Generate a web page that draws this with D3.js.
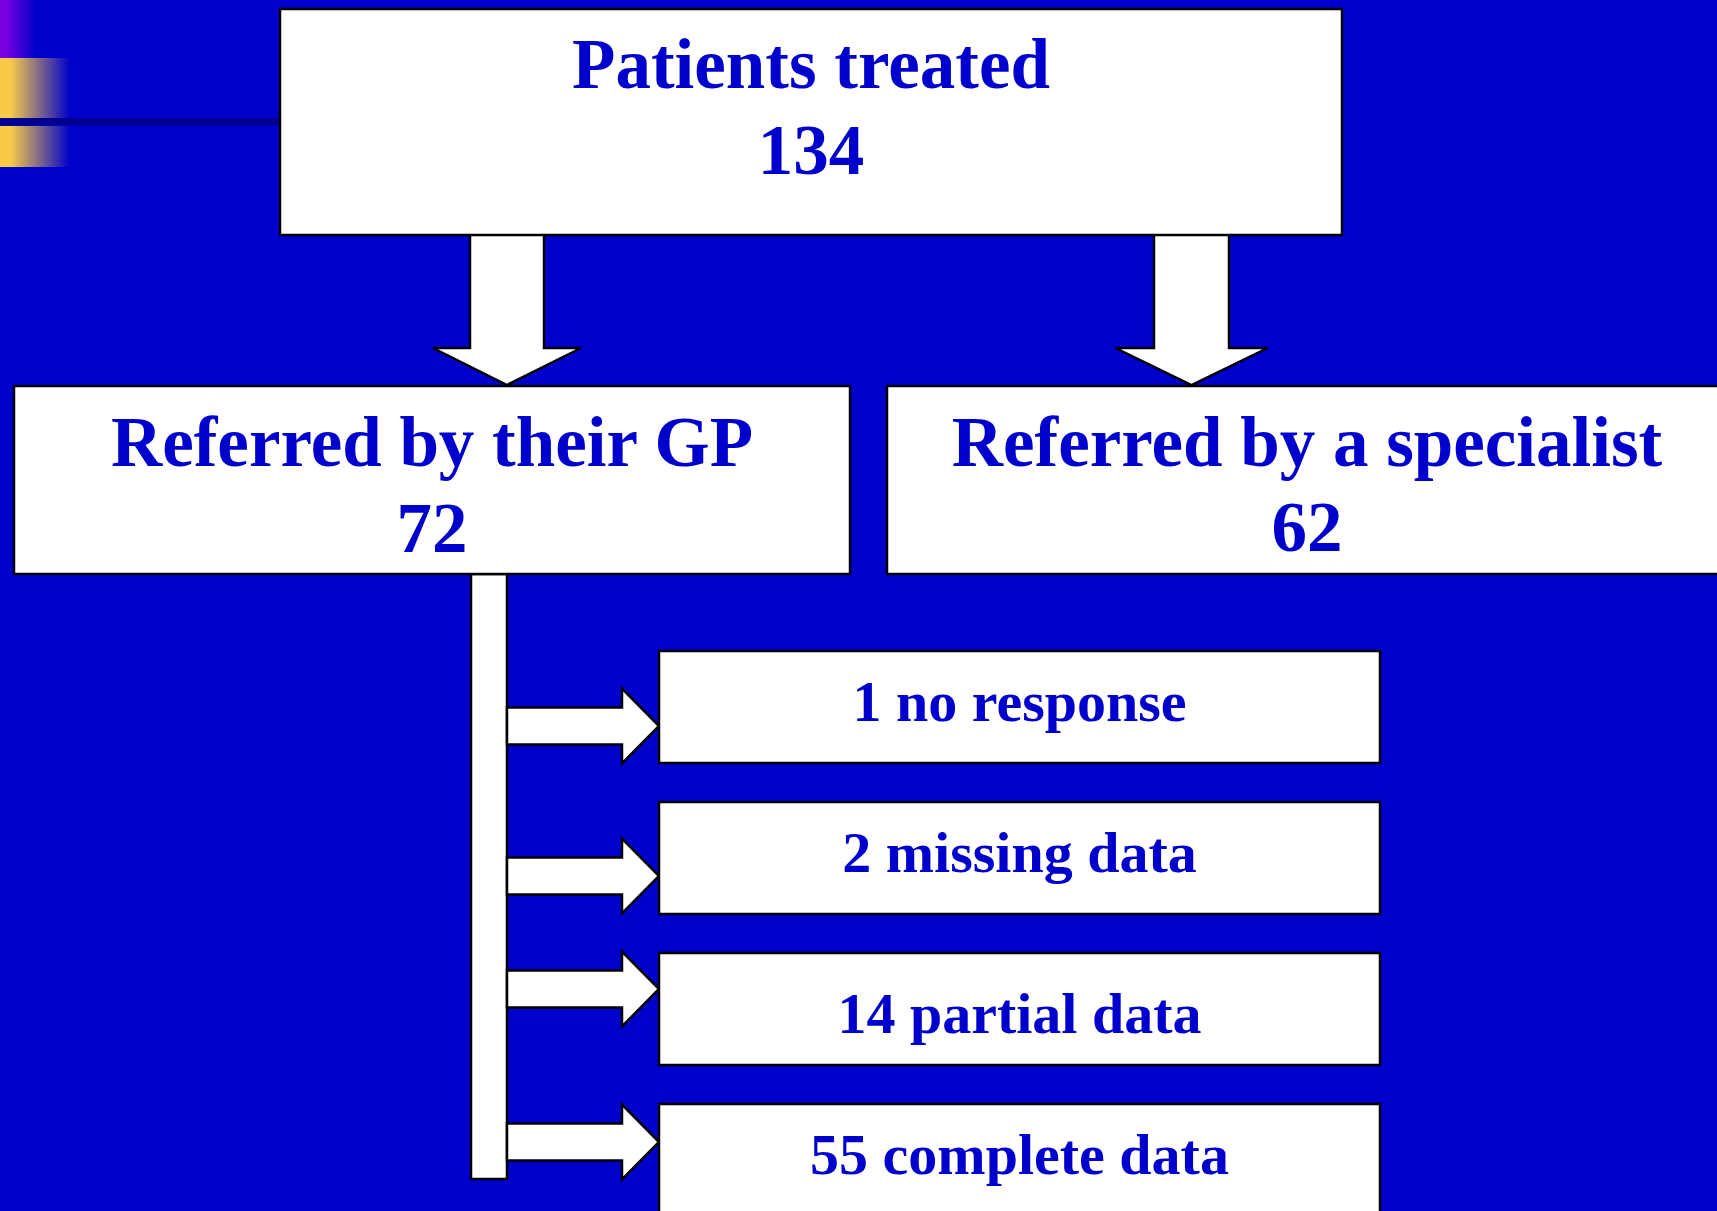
<!DOCTYPE html>
<html>
<head>
<meta charset="utf-8">
<script src="https://cdn.jsdelivr.net/npm/d3@7"></script>
<style>
  html, body { margin: 0; padding: 0; background: #0000cc; overflow: hidden; }
</style>
</head>
<body>
<svg id="chart"></svg>
<script>
// Patient referral flow: who referred the patients, and what came back from the GP group.
const stageLabels = ['Patients treated', 'Referred by their GP', 'Referred by a specialist'];
const stageCounts = [134, 72, 62];
const outcomeLabels = ['no response', 'missing data', 'partial data', 'complete data'];
const outcomeCounts = [1, 2, 14, 55];

const W = 1717, H = 1211;
const palette = {
  bg: '#0000cc', text: '#0000cc', box: '#ffffff', line: '#000000',
  font: '"Liberation Serif", "Times New Roman", Times, serif',
};

// layout only — boxes for the three stages (x, y, width, height, two text baselines)
const stageBoxes = [
  { x: 280, y: 9,   w: 1062, h: 226, b1: 88,  b2: 174 },
  { x: 14,  y: 386, w: 836,  h: 188, b1: 466, b2: 552 },
  { x: 887, y: 386, w: 840,  h: 188, b1: 466, b2: 551 },
];
const outcomeBox = { x: 659, w: 721, h: 112 };
const outcomeTextDy = [70, 70, 80, 70];   // baseline offset inside each outcome box
const outcomeArrowDy = [75, 74, 36, 38];  // arrow tip offset from each outcome box top

const svg = d3.select('#chart').attr('width', W).attr('height', H);
svg.append('rect').attr('width', W).attr('height', H).style('fill', palette.bg);

// Rows of the outcome list
const rowY = d3.scaleLinear().domain([0, outcomeCounts.length - 1]).range([651, 1104]);

// --- corner decoration (template ornament)
const defs = svg.append('defs');
function fade(id, from) {
  const g = defs.append('linearGradient').attr('id', id).attr('x1', 0).attr('x2', 1).attr('y1', 0).attr('y2', 0);
  g.append('stop').attr('offset', 0).attr('stop-color', from);
  g.append('stop').attr('offset', 0.15).attr('stop-color', from);
  g.append('stop').attr('offset', 1).attr('stop-color', palette.bg);
}
fade('fadePurple', '#7a00e2');
fade('fadeYellow', '#f7cb48');
const deco = svg.append('g');
deco.append('rect').attr('x', 0).attr('y', 0).attr('width', 36).attr('height', 58).style('fill', 'url(#fadePurple)');
deco.append('rect').attr('x', 0).attr('y', 58).attr('width', 70).attr('height', 60).style('fill', 'url(#fadeYellow)');
deco.append('rect').attr('x', 0).attr('y', 126).attr('width', 70).attr('height', 41).style('fill', 'url(#fadeYellow)');
deco.append('rect').attr('x', 0).attr('y', 118).attr('width', 281).attr('height', 7.5).style('fill', '#000090');

// --- arrows
const line = d3.line();
function downArrow(cx, y0, yHead, yTip, sh, hh) {
  return line([[cx - sh, y0], [cx + sh, y0], [cx + sh, yHead], [cx + hh, yHead],
    [cx, yTip], [cx - hh, yHead], [cx - sh, yHead]]) + 'Z';
}
function rightArrow(x0, xHead, xTip, cy, sh, hh) {
  return line([[x0, cy - sh], [xHead, cy - sh], [xHead, cy - hh], [xTip, cy],
    [xHead, cy + hh], [xHead, cy + sh], [x0, cy + sh]]) + 'Z';
}
const arrows = svg.append('g')
  .style('fill', palette.box).style('stroke', palette.line)
  .style('stroke-width', '2.5').style('stroke-linejoin', 'miter');

arrows.append('path').attr('d', downArrow(507, 234, 348, 385, 37, 74));
arrows.append('path').attr('d', downArrow(1191.5, 234, 348, 385, 37.5, 76));

// vertical spine from the GP box
arrows.append('rect').attr('x', 471).attr('y', 574).attr('width', 36).attr('height', 605);

arrows.selectAll('path.out')
  .data(outcomeCounts)
  .join('path')
  .attr('class', 'out')
  .attr('d', (d, i) => rightArrow(507, 622, 659, rowY(i) + outcomeArrowDy[i], 18.5, 37.5));

// --- stage boxes
const txt = sel => sel
  .style('font-family', palette.font).style('font-weight', '700')
  .style('fill', palette.text).attr('text-anchor', 'middle');

const stages = svg.append('g').selectAll('g')
  .data(stageLabels.map((label, i) => ({ label, n: stageCounts[i], box: stageBoxes[i] })))
  .join('g');
stages.append('rect')
  .attr('x', d => d.box.x).attr('y', d => d.box.y)
  .attr('width', d => d.box.w).attr('height', d => d.box.h)
  .style('fill', palette.box).style('stroke', palette.line).style('stroke-width', '2.5');
stages.append('text').call(txt)
  .style('font-size', '71px')
  .attr('x', d => d.box.x + d.box.w / 2).attr('y', d => d.box.b1)
  .text(d => d.label);
stages.append('text').call(txt)
  .style('font-size', '71px')
  .attr('x', d => d.box.x + d.box.w / 2).attr('y', d => d.box.b2)
  .text(d => d.n);

// --- outcome boxes
const outs = svg.append('g').selectAll('g')
  .data(outcomeCounts.map((n, i) => ({ n, label: outcomeLabels[i], i })))
  .join('g');
outs.append('rect')
  .attr('x', outcomeBox.x).attr('y', d => rowY(d.i))
  .attr('width', outcomeBox.w).attr('height', outcomeBox.h)
  .style('fill', palette.box).style('stroke', palette.line).style('stroke-width', '2.5');
outs.append('text').call(txt)
  .style('font-size', '58px')
  .attr('x', outcomeBox.x + outcomeBox.w / 2)
  .attr('y', d => rowY(d.i) + outcomeTextDy[d.i])
  .text(d => `${d.n} ${d.label}`);
</script>
</body>
</html>
